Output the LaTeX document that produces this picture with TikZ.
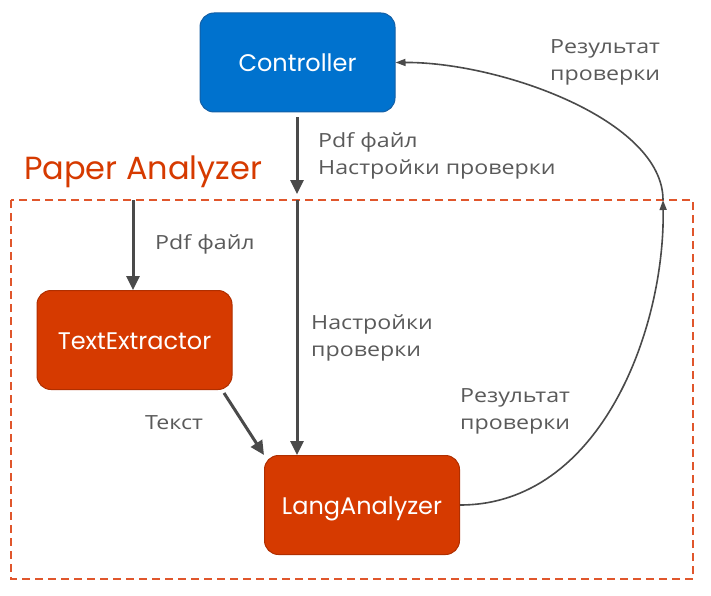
\documentclass[tikz,border=0pt]{standalone}
\usepackage{fontspec}
\setmainfont[FakeStretch=1.19]{Open Sans}
\newfontfamily\boxfont{Poppins}
\usetikzlibrary{arrows.meta}
\definecolor{ctrlblue}{HTML}{0072CE}
\definecolor{ctrlborder}{HTML}{135FA6}
\definecolor{modorange}{HTML}{D63A00}
\definecolor{modborder}{HTML}{B02F00}
\definecolor{dashorange}{HTML}{E0562C}
\definecolor{labelgray}{HTML}{5A5A5A}
\definecolor{arrowgray}{HTML}{4A4A4A}
\tikzset{
  box/.style={rounded corners=14pt, minimum width=195pt, minimum height=99pt,
    text=white, font=\boxfont\fontsize{24}{28}\selectfont, line width=1pt,
    text height=18pt, text depth=0pt},
  ctrlbox/.style={box, fill=ctrlblue, draw=ctrlborder},
  modbox/.style={box, fill=modorange, draw=modborder},
  lbl/.style={text=labelgray, anchor=west, align=left, inner sep=0pt,
    font=\fontsize{19.5}{27}\selectfont},
  flow/.style={draw=arrowgray, line width=3pt, -{Triangle[length=14pt,width=13pt]}},
  ret/.style={draw=arrowgray, line width=1.6pt, -{Triangle[length=10pt,width=7pt]}},
  frame/.style={draw=dashorange, line width=1.6pt, dash pattern=on 8pt off 5pt}
}
\begin{document}
\begin{tikzpicture}[x=1pt,y=-1pt]
\useasboundingbox[fill=white] (0,0) rectangle (711,596);
\draw[frame] (11,200) rectangle (693,579);
\node[anchor=west, inner sep=0pt, text=modorange, font=\boxfont\fontsize{32}{36}\selectfont] (title) at (24,172) {Paper Analyzer};
\node[ctrlbox] (ctrl) at (297.5,62.5) {Controller};
\node[modbox] (tex) at (134.5,340) {TextExtractor};
\node[modbox] (lang) at (362,505) {LangAnalyzer};
\coordinate (bordermid) at (297,200);
\coordinate (midtip) at (297,194);
\coordinate (borderleft) at (133,200);
\coordinate (borderright) at (663,200);
\draw[flow] (ctrl.south -| midtip) ++(0,5) -- (midtip);
\draw[flow] (bordermid) -- (lang.north -| bordermid);
\draw[flow] (borderleft) -- (tex.north -| borderleft);
\draw[flow] (224,393) -- (lang.north west);
\draw[ret] (lang.east) .. controls (600,505) and (665,330) .. (borderright);
\draw[ret] (borderright) .. controls (663,120) and (500,62) .. (ctrl.east);
\node[lbl] (l1) at (318,156) {Pdf файл\\Настройки проверки};
\node[lbl] (l2) at (155,244) {Pdf файл};
\node[lbl] (l3) at (311,338) {Настройки\\проверки};
\node[lbl] (l4) at (145,423) {Текст};
\node[lbl] (l5) at (460,411) {Результат\\проверки};
\node[lbl] (l6) at (550,62) {Результат\\проверки};
\end{tikzpicture}
\end{document}
